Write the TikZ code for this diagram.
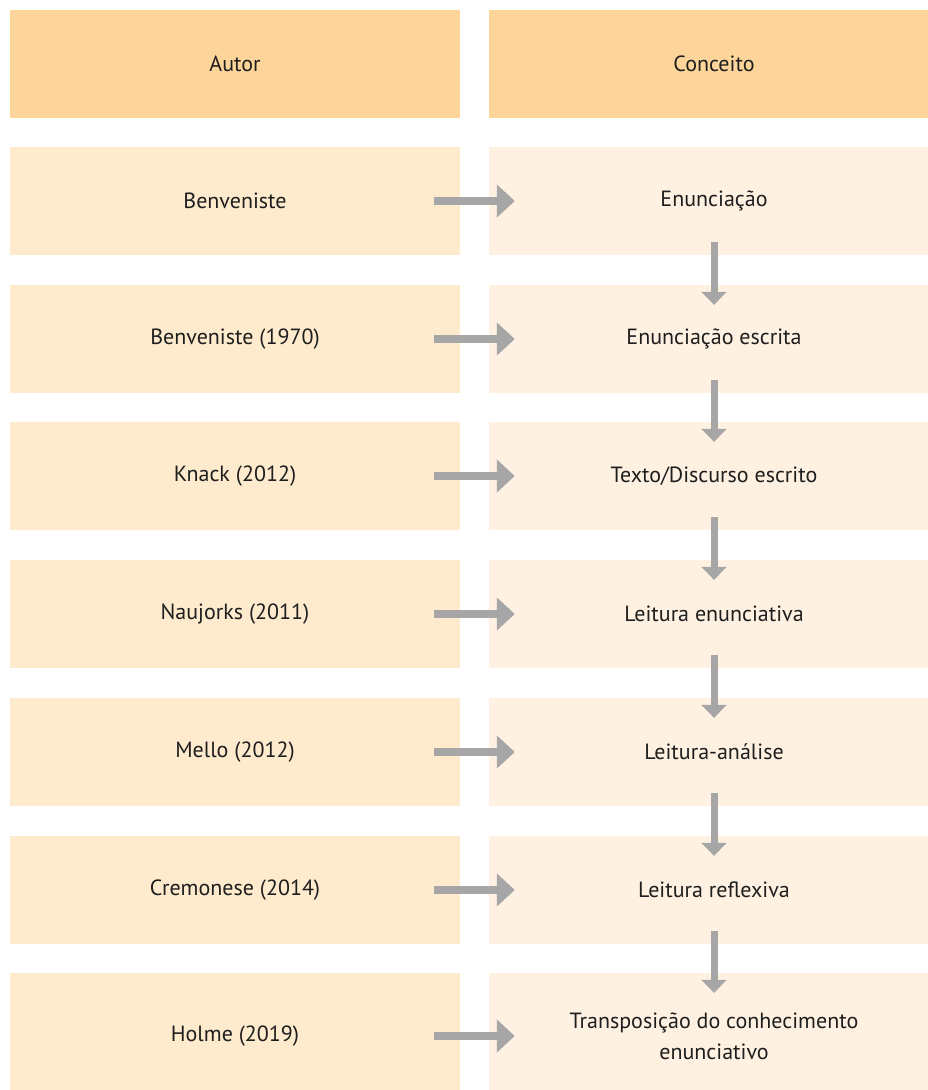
\documentclass[tikz,border=0pt]{standalone}
\usepackage{fontspec}
\setmainfont{PT Sans}
\usetikzlibrary{arrows.meta}
\definecolor{headfill}{HTML}{FDD59A}
\definecolor{autorfill}{HTML}{FEEACD}
\definecolor{conceitofill}{HTML}{FEF1E1}
\definecolor{arrowgray}{HTML}{A6A6A6}
\definecolor{textdark}{HTML}{1E1E1E}

\begin{document}
\begin{tikzpicture}[x=1pt,y=-1pt,font=\fontsize{22}{31}\selectfont,
  headbox/.style={fill=headfill,minimum width=450pt,minimum height=108pt},
  autorbox/.style={fill=autorfill,minimum width=450pt,minimum height=108pt},
  conceitobox/.style={fill=conceitofill,minimum width=450pt,minimum height=108pt},
  harrow/.style={draw=arrowgray,line width=8pt,-{Triangle[width=32pt,length=18pt]}},
  varrow/.style={draw=arrowgray,line width=7pt,-{Triangle[width=25pt,length=13pt]}}]
   \useasboundingbox (0,0) rectangle (928,1090);
   \begin{scope}[every node/.style={rectangle,inner sep=0pt,text=textdark,align=center}]
    \node[headbox] (hA) at (235,64) {Autor};
    \node[headbox] (hC) at (714,64) {Conceito};
    \node[autorbox] (a1) at (235,201) {Benveniste};
    \node[autorbox] (a2) at (235,339) {Benveniste (1970)};
    \node[autorbox] (a3) at (235,476) {Knack (2012)};
    \node[autorbox] (a4) at (235,614) {Naujorks (2011)};
    \node[autorbox] (a5) at (235,752) {Mello (2012)};
    \node[autorbox] (a6) at (235,890) {Cremonese (2014)};
    \node[autorbox,minimum height=126pt] (a7) at (235,1036) {Holme (2019)};
    \node[conceitobox] (c1) at (714,201) {Enunciação};
    \node[conceitobox] (c2) at (714,339) {Enunciação escrita};
    \node[conceitobox] (c3) at (714,476) {Texto/Discurso escrito};
    \node[conceitobox] (c4) at (714,614) {Leitura enunciativa};
    \node[conceitobox] (c5) at (714,752) {Leitura-análise};
    \node[conceitobox] (c6) at (714,890) {Leitura reflexiva};
    \node[conceitobox,minimum height=126pt] (c7) at (714,1036) {Transposição do conhecimento\\enunciativo};
   \end{scope}
   \begin{scope}
    \foreach \i in {1,...,7}
      \draw[harrow] ([xshift=-26pt]a\i.east) -- ([xshift=26pt]c\i.west);
    \foreach \i/\j in {1/2,2/3,3/4,4/5,5/6,6/7}
      \draw[varrow] ([yshift=13pt]c\i.south) -- ([yshift=-20pt]c\j.north);
   \end{scope}
\end{tikzpicture}
\end{document}
